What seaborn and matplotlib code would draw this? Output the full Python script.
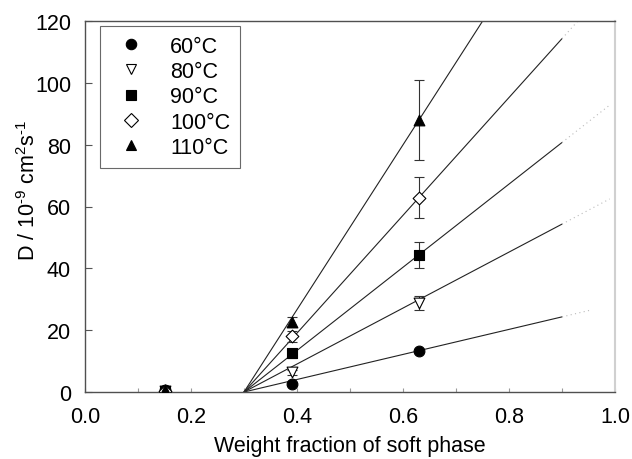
import numpy as np
import pandas as pd
import seaborn as sns
import matplotlib
matplotlib.use("Agg")
import matplotlib.pyplot as plt
from matplotlib.lines import Line2D

# ---- data ----
temperatures = ["60°C", "80°C", "90°C", "100°C", "110°C"]
weight_fraction = [0.15, 0.39, 0.63]
d_60 = [0.5, 2.6, 13.3]
d_80 = [0.3, 6.4, 28.8]
d_90 = [0.4, 12.5, 44.3]
d_100 = [0.4, 18.0, 62.8]
d_110 = [0.5, 22.6, 88.0]
err_60 = [0.0, 0.3, 0.5]
err_80 = [0.0, 0.8, 2.4]
err_90 = [0.0, 1.5, 4.3]
err_100 = [0.0, 1.8, 6.6]
err_110 = [0.0, 1.5, 12.8]
# linear fits: D = slope * (w - w0)
fit_intercept_w0 = 0.30
fit_slopes = [40.5, 90.5, 134.5, 190.5, 266.5]
fit_solid_end = [0.90, 0.90, 0.90, 0.90, 0.90]
fit_dotted_end = [0.955, 0.99, 0.99, 1.0, 1.0]

values = [d_60, d_80, d_90, d_100, d_110]
errors = [err_60, err_80, err_90, err_100, err_110]
markers = ["o", "v", "s", "D", "^"]
facecolors = ["black", "white", "black", "white", "black"]
sizes = [60, 60, 50, 42, 60]

sns.set_style("ticks")
plt.rcParams["font.family"] = ["Liberation Sans", "DejaVu Sans"]
plt.rcParams["mathtext.fontset"] = "custom"
plt.rcParams["mathtext.rm"] = "Liberation Sans"
plt.rcParams["mathtext.it"] = "Liberation Sans"
plt.rcParams["text.color"] = "black"
plt.rcParams["axes.labelcolor"] = "black"

FS = 15.5

fig = plt.figure(figsize=(6.32, 4.60), dpi=100)
ax = fig.add_axes([85 / 632, 1 - 393 / 460, 530 / 632, 371 / 460])

# fit lines
for s, e1, e2 in zip(fit_slopes, fit_solid_end, fit_dotted_end):
    xs = np.linspace(fit_intercept_w0, e1, 50)
    ax.plot(xs, s * (xs - fit_intercept_w0), color="#222222", lw=0.8, zorder=1)
    xd = np.linspace(e1, e2, 20)
    ax.plot(xd, s * (xd - fit_intercept_w0), color="#bbbbbb", lw=0.8,
            ls=(0, (1, 3)), zorder=1)

# error bars and markers
for lab, v, err, m, fc, sz in zip(temperatures, values, errors, markers, facecolors, sizes):
    ax.errorbar(weight_fraction, v, yerr=err, fmt="none", ecolor="#333333",
                elinewidth=0.8, capsize=3.5, capthick=0.8, zorder=2)
    df = pd.DataFrame({"w": weight_fraction, "D": v})
    sns.scatterplot(data=df, x="w", y="D", marker=m, color=fc, edgecolor="black",
                    linewidth=0.8, s=sz, label=lab, ax=ax, zorder=3, legend=False)

ax.set_xlim(0, 1.0)
ax.set_ylim(0, 120)
ax.set_xticks(np.arange(0, 1.01, 0.2))
ax.set_xticks(np.arange(0, 1.01, 0.1), minor=True)
ax.set_yticks(np.arange(0, 121, 20))
ax.set_xticklabels([f"{t:.1f}" for t in np.arange(0, 1.01, 0.2)])
ax.tick_params(axis="both", which="major", direction="in", length=5,
               width=0.8, labelsize=FS, color="#555555", labelcolor="black")
ax.tick_params(axis="x", which="major", pad=10, length=3, color="#999999")
ax.tick_params(axis="y", which="major", pad=10)
ax.tick_params(axis="x", which="minor", direction="in", length=3,
               width=0.8, color="#999999")

for side in ["left", "bottom", "top"]:
    ax.spines[side].set_visible(True)
    ax.spines[side].set_color("#505050")
    ax.spines[side].set_linewidth(1.0)
ax.spines["right"].set_visible(True)
ax.spines["right"].set_color("#d0d0d0")
ax.spines["right"].set_linewidth(1.5)

ax.set_xlabel("Weight fraction of soft phase", fontsize=FS)
ax.xaxis.set_label_coords(0.5, (393 - 436) / 371)
ax.set_ylabel(r"D / 10$^{\text{-}9}$ cm$^2$s$^{\text{-}1}$", fontsize=FS)
ax.yaxis.label.set_va("center")
ax.yaxis.set_label_coords((29 - 85) / 530, (393 - 191) / 371)

# legend
handles = [Line2D([], [], ls="none", marker=m, markerfacecolor=fc,
                  markeredgecolor="black", markeredgewidth=0.8, markersize=7.5)
           for m, fc in zip(markers, facecolors)]
leg = ax.legend(handles, temperatures, loc="upper left",
                bbox_to_anchor=(15 / 530, (393 - 27) / 371), borderaxespad=0,
                fontsize=FS, frameon=True, fancybox=False, edgecolor="#444444",
                handletextpad=0.8, labelspacing=0.2, borderpad=0.45,
                handlelength=2.0)
leg.get_frame().set_linewidth(0.8)

fig.savefig("out.png", dpi=100)
